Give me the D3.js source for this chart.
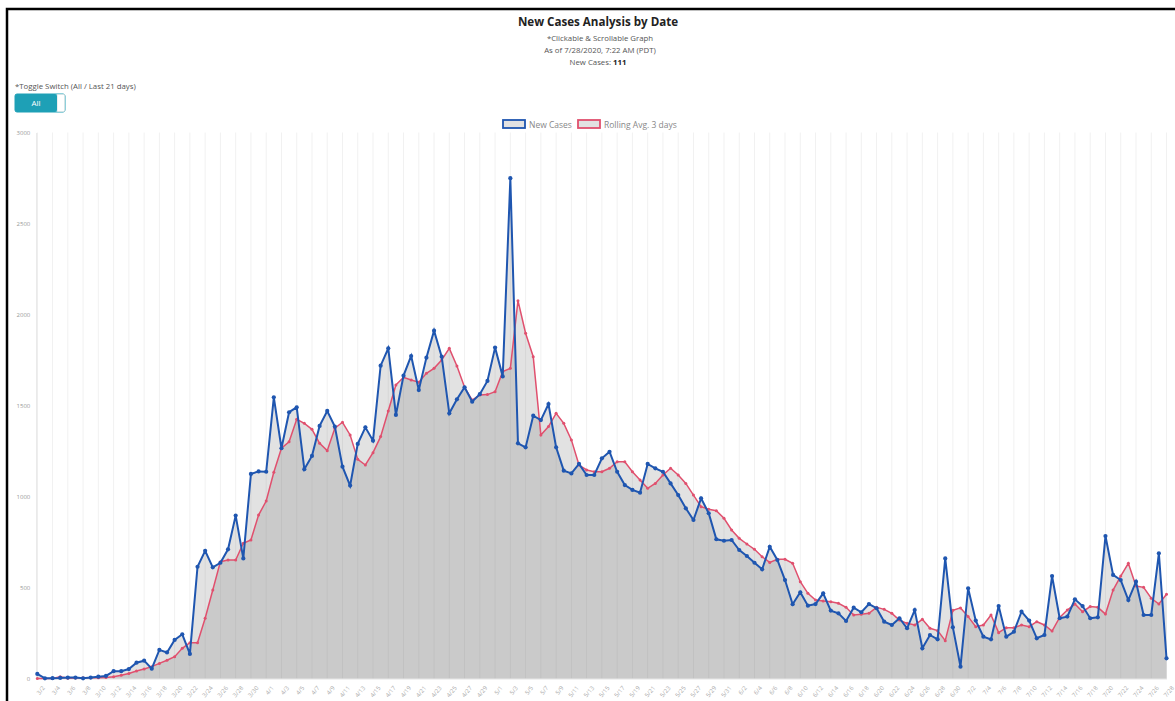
<!DOCTYPE html>
<html>
<head>
<meta charset="utf-8">
<script src="https://cdn.jsdelivr.net/npm/d3@7"></script>
<style>
  html, body { margin: 0; padding: 0; background: #fff; }
  svg { display: block; font-family: "Open Sans", "Noto Sans", sans-serif; }
</style>
</head>
<body>
<svg id="chart" width="1175" height="701"></svg>
<script>
// ---- Data ----
const dates = [
  "3/2","3/3","3/4","3/5","3/6","3/7","3/8","3/9","3/10","3/11","3/12","3/13","3/14","3/15","3/16","3/17","3/18","3/19","3/20","3/21","3/22","3/23","3/24","3/25","3/26","3/27","3/28","3/29","3/30","3/31",
  "4/1","4/2","4/3","4/4","4/5","4/6","4/7","4/8","4/9","4/10","4/11","4/12","4/13","4/14","4/15","4/16","4/17","4/18","4/19","4/20","4/21","4/22","4/23","4/24","4/25","4/26","4/27","4/28","4/29","4/30",
  "5/1","5/2","5/3","5/4","5/5","5/6","5/7","5/8","5/9","5/10","5/11","5/12","5/13","5/14","5/15","5/16","5/17","5/18","5/19","5/20","5/21","5/22","5/23","5/24","5/25","5/26","5/27","5/28","5/29","5/30","5/31",
  "6/1","6/2","6/3","6/4","6/5","6/6","6/7","6/8","6/9","6/10","6/11","6/12","6/13","6/14","6/15","6/16","6/17","6/18","6/19","6/20","6/21","6/22","6/23","6/24","6/25","6/26","6/27","6/28","6/29","6/30",
  "7/1","7/2","7/3","7/4","7/5","7/6","7/7","7/8","7/9","7/10","7/11","7/12","7/13","7/14","7/15","7/16","7/17","7/18","7/19","7/20","7/21","7/22","7/23","7/24","7/25","7/26","7/27","7/28"
];

const newCases = [
  25,1,2,3,5,5,1,5,10,14,40,40,52,87,98,54,157,143,212,243,135,614,702,611,636,710,895,660,1124,1138,
  1136,1545,1265,1463,1490,1150,1223,1388,1470,1384,1164,1060,1289,1380,1307,1719,1814,1448,1664,1772,1585,1763,1911,1768,1457,1534,1600,1521,1562,1635,
  1818,1660,2749,1292,1270,1444,1420,1508,1270,1142,1127,1179,1118,1118,1210,1246,1136,1063,1036,1021,1179,1155,1136,1072,1008,935,871,990,908,765,757,
  761,706,673,636,600,724,651,541,408,474,400,409,468,373,358,316,389,364,409,386,312,294,331,276,376,166,239,215,660,281,
  65,496,318,230,215,398,230,257,367,318,221,239,563,331,340,435,398,331,336,783,569,541,431,532,349,349,688,111
];

const rollingAvg = [
  0,0,0,9,2,3,4,4,4,5,10,18,28,41,52,65,83,100,120,166,197,197,331,486,642,651,651,743,761,898,
  975,1133,1265,1301,1424,1402,1369,1292,1252,1375,1408,1338,1204,1173,1241,1329,1470,1613,1655,1640,1628,1677,1704,1750,1814,1717,1600,1530,1558,1560,
  1576,1686,1704,2076,1897,1768,1338,1384,1457,1402,1311,1173,1146,1136,1136,1155,1191,1191,1136,1091,1045,1072,1118,1155,1118,1072,1008,944,930,922,880,
  816,770,739,710,669,638,655,655,633,532,468,431,426,422,413,391,349,353,358,391,380,358,321,303,294,325,276,263,208,375,
  388,340,285,294,349,252,279,279,294,285,312,294,261,336,376,409,367,395,391,354,486,563,633,508,501,441,409,463
];

const yTicks = [0, 500, 1000, 1500, 2000, 2500, 3000];
const xTickLabels = dates.filter((d, i) => i % 2 === 0);

const titleText = "New Cases Analysis by Date";
const subtitleLines = ["*Clickable & Scrollable Graph", "As of 7/28/2020, 7:22 AM (PDT)"];
const latestLabel = "New Cases: ";
const latestValue = "111";
const toggleLabel = "*Toggle Switch (All / Last 21 days)";
const toggleText = "All";
const seriesNames = ["New Cases", "Rolling Avg. 3 days"];

// ---- Layout ----
const svg = d3.select("#chart");
const W = 1175, H = 701;
const plot = { left: 37.3, right: 1166.5, top: 132.5, bottom: 678.5 };
const blue = "#1f56b0", red = "#e0506e";

const x = d3.scalePoint().domain(dates).range([plot.left, plot.right]);
const y = d3.scaleLinear().domain([0, 3000]).range([plot.bottom, plot.top]);

// frame border (top & left)
svg.append("path").attr("d", `M7,${H} L7,9 L${W},9`).attr("fill", "none").attr("stroke", "#000").attr("stroke-width", 2.5);

// Title
svg.append("text").attr("x", 598).attr("y", 26).attr("text-anchor", "middle")
  .attr("font-size", 11.6).attr("font-weight", "bold").attr("fill", "#222").text(titleText);
subtitleLines.forEach((t, i) => {
  svg.append("text").attr("x", 600).attr("y", 41 + i * 12).attr("text-anchor", "middle")
    .attr("font-size", 7.8).attr("fill", "#555").text(t);
});
const nc = svg.append("text").attr("x", 598).attr("y", 65).attr("text-anchor", "middle")
  .attr("font-size", 7.8).attr("fill", "#555");
nc.append("tspan").text(latestLabel);
nc.append("tspan").attr("font-weight", "bold").attr("fill", "#222").text(latestValue);

// Toggle
svg.append("text").attr("x", 15).attr("y", 89).attr("font-size", 7.8).attr("fill", "#555").text(toggleLabel);
svg.append("rect").attr("x", 15).attr("y", 94).attr("width", 50).attr("height", 18).attr("rx", 2)
  .attr("fill", "#fff").attr("stroke", "#1ea0b6").attr("stroke-width", 1);
svg.append("rect").attr("x", 15).attr("y", 94).attr("width", 42).attr("height", 18).attr("rx", 2).attr("fill", "#1ea0b6");
svg.append("rect").attr("x", 57.5).attr("y", 94.5).attr("width", 7).attr("height", 17).attr("fill", "#fff").attr("stroke", "#ddd").attr("stroke-width", 0.5);
svg.append("text").attr("x", 36).attr("y", 106).attr("text-anchor", "middle").attr("font-size", 8).attr("fill", "#fff").text(toggleText);

// Legend
const legendItems = [
  { name: seriesNames[0], color: blue, bx: 503, tx: 529 },
  { name: seriesNames[1], color: red, bx: 578, tx: 604 }
];
legendItems.forEach(it => {
  svg.append("rect").attr("x", it.bx).attr("y", 120).attr("width", 22).attr("height", 8)
    .attr("fill", "#e2e2e2").attr("stroke", it.color).attr("stroke-width", 1.8);
  svg.append("text").attr("x", it.tx).attr("y", 127.5).attr("font-size", 8.5).attr("fill", "#888").text(it.name);
});

// Vertical gridlines
svg.append("g").selectAll("line").data(xTickLabels).join("line")
  .attr("x1", d => x(d)).attr("x2", d => x(d))
  .attr("y1", plot.top).attr("y2", plot.bottom)
  .attr("stroke", "#f1f1f1").attr("stroke-width", 1);

// Y axis
const yAxis = svg.append("g").attr("transform", `translate(${plot.left - 1},0)`)
  .call(d3.axisLeft(y).tickValues(yTicks).tickFormat(d3.format("d")).tickSize(0).tickPadding(6));
yAxis.select(".domain").attr("stroke", "#e3e3e3");
yAxis.selectAll("text").attr("font-size", 6).attr("fill", "#999").attr("font-family", "'Open Sans', sans-serif");

// X axis
const xAxis = svg.append("g").attr("transform", `translate(0,${plot.bottom})`)
  .call(d3.axisBottom(x).tickValues(xTickLabels).tickSize(0).tickPadding(4));
xAxis.select(".domain").attr("stroke", "#e3e3e3");
xAxis.selectAll("text").attr("font-size", 6).attr("fill", "#aaa").attr("font-family", "'Open Sans', sans-serif")
  .attr("text-anchor", "end").attr("dy", "0.3em")
  .attr("transform", "translate(3,6) rotate(-50)");

// Areas
const area = vals => d3.area().x((d, i) => x(dates[i])).y0(y(0)).y1(d => y(d))(vals);
svg.append("path").attr("d", area(rollingAvg)).attr("fill", "rgba(110,110,110,0.2)");
svg.append("path").attr("d", area(newCases)).attr("fill", "rgba(110,110,110,0.2)");

// Lines
const line = vals => d3.line().x((d, i) => x(dates[i])).y(d => y(d))(vals);
svg.append("path").attr("d", line(rollingAvg)).attr("fill", "none").attr("stroke", red).attr("stroke-width", 1.5);
svg.append("g").selectAll("circle").data(rollingAvg).join("circle")
  .attr("cx", (d, i) => x(dates[i])).attr("cy", d => y(d)).attr("r", 1.5).attr("fill", red);

svg.append("path").attr("d", line(newCases)).attr("fill", "none").attr("stroke", blue).attr("stroke-width", 2);
svg.append("g").selectAll("circle").data(newCases).join("circle")
  .attr("cx", (d, i) => x(dates[i])).attr("cy", d => y(d)).attr("r", 2.1).attr("fill", blue);
</script>
</body>
</html>
